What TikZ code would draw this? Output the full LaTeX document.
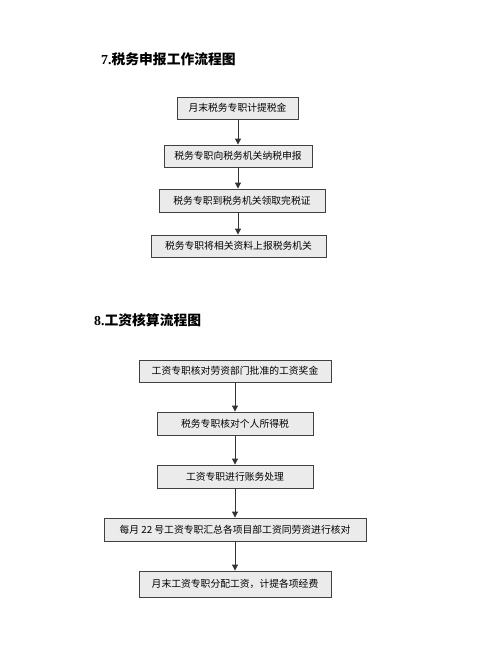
\documentclass[tikz,border=0pt]{standalone}
\usepackage{fontspec}
\setmainfont{Liberation Serif}
\newfontfamily\cjk{Noto Sans CJK SC}
\usetikzlibrary{arrows.meta}
\begin{document}
\begin{tikzpicture}[x=1pt,y=-1pt,
  flowbox/.style={draw=black!75,line width=0.9pt,fill=black!8,inner sep=0pt,font=\cjk\fontsize{9.8}{11}\selectfont},
  flowarrow/.style={draw=black!80,line width=1pt,-{Triangle[length=6pt,width=6pt]}},
  heading/.style={anchor=west,inner sep=0pt,font=\bfseries\fontsize{13.8}{15}\selectfont}]
\useasboundingbox (0,0) rectangle (500,652);
\fill[white] (0,0) rectangle (500,652);
\node[heading] (t7) at (101,59) {7.{\cjk\bfseries 税务申报工作流程图}};
\node[flowbox,minimum width=121pt,minimum height=22pt] (a1) at (237.5,108) {月末税务专职计提税金};
\node[flowbox,minimum width=148pt,minimum height=22pt] (a2) at (238,156) {税务专职向税务机关纳税申报};
\node[flowbox,minimum width=166pt,minimum height=23pt] (a3) at (242,200.5) {税务专职到税务机关领取完税证};
\node[flowbox,minimum width=175pt,minimum height=22pt] (a4) at (238.5,246) {税务专职将相关资料上报税务机关};
\draw[flowarrow] (a1.south -| 238,0) -- (a2.north -| 238,0);
\draw[flowarrow] (a2.south -| 238,0) -- (a3.north -| 238,0);
\draw[flowarrow] (a3.south -| 238,0) -- (a4.north -| 238,0);
\node[heading] (t8) at (94,320) {8.{\cjk\bfseries 工资核算流程图}};
\node[flowbox,minimum width=192pt,minimum height=22pt] (b1) at (235,371) {工资专职核对劳资部门批准的工资奖金};
\node[flowbox,minimum width=156pt,minimum height=23pt] (b2) at (235,423.5) {税务专职核对个人所得税};
\node[flowbox,minimum width=156pt,minimum height=23pt] (b3) at (235,476.5) {工资专职进行账务处理};
\node[flowbox,minimum width=262pt,minimum height=23pt] (b4) at (235,529.5) {每月 22 号工资专职汇总各项目部工资同劳资进行核对};
\node[flowbox,minimum width=192pt,minimum height=26pt] (b5) at (235,584) {月末工资专职分配工资，计提各项经费};
\draw[flowarrow] (b1) -- (b2);
\draw[flowarrow] (b2) -- (b3);
\draw[flowarrow] (b3) -- (b4);
\draw[flowarrow] (b4) -- (b5);
\end{tikzpicture}
\end{document}
